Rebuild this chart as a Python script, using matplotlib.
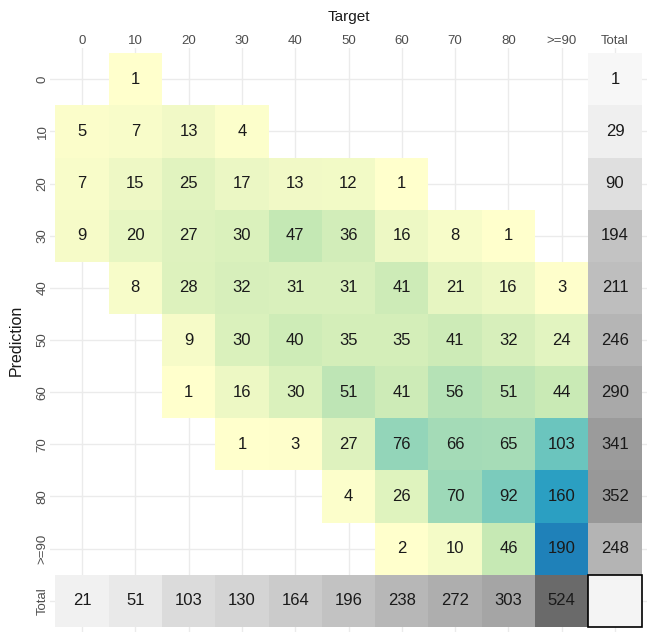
import numpy as np
import matplotlib
matplotlib.use("Agg")
import matplotlib.pyplot as plt
from matplotlib.colors import LinearSegmentedColormap
from matplotlib.patches import Rectangle

plt.rcParams['font.family'] = ['Liberation Sans', 'DejaVu Sans']

target_labels = ["0", "10", "20", "30", "40", "50", "60", "70", "80", ">=90", "Total"]
pred_labels = ["0", "10", "20", "30", "40", "50", "60", "70", "80", ">=90", "Total"]

N = None
counts = [
    [N, 1, N, N, N, N, N, N, N, N],
    [5, 7, 13, 4, N, N, N, N, N, N],
    [7, 15, 25, 17, 13, 12, 1, N, N, N],
    [9, 20, 27, 30, 47, 36, 16, 8, 1, N],
    [N, 8, 28, 32, 31, 31, 41, 21, 16, 3],
    [N, N, 9, 30, 40, 35, 35, 41, 32, 24],
    [N, N, 1, 16, 30, 51, 41, 56, 51, 44],
    [N, N, N, 1, 3, 27, 76, 66, 65, 103],
    [N, N, N, N, N, 4, 26, 70, 92, 160],
    [N, N, N, N, N, N, 2, 10, 46, 190],
]
row_totals = [1, 29, 90, 194, 211, 246, 290, 341, 352, 248]
col_totals = [21, 51, 103, 130, 164, 196, 238, 272, 303, 524]

W, H = 654, 639
fig = plt.figure(figsize=(W / 100, H / 100), dpi=100)
px_l, px_r, px_t, px_b = 50, 647, 48, 632
ax = fig.add_axes([px_l / W, (H - px_b) / H, (px_r - px_l) / W, (px_b - px_t) / H])

palette = ["#ffffcc", "#c7e9b4", "#7fcdbb", "#41b6c4", "#1d91c0", "#225ea8", "#0c2c84"]
cmap = LinearSegmentedColormap.from_list("ylgnbu7", palette)
vmin, vmax = 1.0, 264.0
gray_lo, gray_hi = 247, 106

def gray(v):
    g = gray_lo - (gray_lo - gray_hi) * v / max(col_totals)
    g = g / 255
    return (g, g, g)

n = len(target_labels)
for i, row in enumerate(counts):
    for j, v in enumerate(row):
        if v is None:
            continue
        ax.add_patch(Rectangle((j - 0.5, i - 0.5), 1, 1, facecolor=cmap((v - vmin) / (vmax - vmin)),
                               edgecolor='none', zorder=2))
        ax.text(j, i, str(v), ha='center', va='center', fontsize=12, color='#1a1a1a', zorder=3)

for i, v in enumerate(row_totals):
    ax.add_patch(Rectangle((n - 1.5, i - 0.5), 1, 1, facecolor=gray(v), edgecolor='none', zorder=2))
    ax.text(n - 1, i, str(v), ha='center', va='center', fontsize=12, color='#1a1a1a', zorder=3)
for j, v in enumerate(col_totals):
    ax.add_patch(Rectangle((j - 0.5, n - 1.5), 1, 1, facecolor=gray(v), edgecolor='none', zorder=2))
    ax.text(j, n - 1, str(v), ha='center', va='center', fontsize=12, color='#1a1a1a', zorder=3)
ax.add_patch(Rectangle((n - 1.5, n - 1.5), 1, 1, facecolor='#f4f4f4', edgecolor='black',
                       linewidth=1.2, zorder=4))

ax.set_xlim(-0.6, n - 0.4)
ax.set_ylim(n - 0.4, -0.6)
ax.set_xticks(range(n))
ax.set_yticks(range(n))
ax.set_xticklabels(target_labels)
ax.set_yticklabels(pred_labels, rotation=90, va='center')
ax.xaxis.tick_top()
ax.tick_params(axis='both', length=0, labelsize=9.5, labelcolor='#4d4d4d', pad=1)
ax.grid(True, color='#ebebeb', linewidth=1.0, zorder=0)
ax.set_axisbelow(True)
for s in ax.spines.values():
    s.set_visible(False)

fig.text((px_l + px_r) / 2 / W, 1 - 17 / H, "Target", ha='center', va='center', fontsize=11, color='#1a1a1a')
fig.text(16 / W, 1 - 340 / H, "Prediction", ha='center', va='center', rotation=90, fontsize=11.5, color='#1a1a1a')

fig.savefig("out.png", dpi=100)
